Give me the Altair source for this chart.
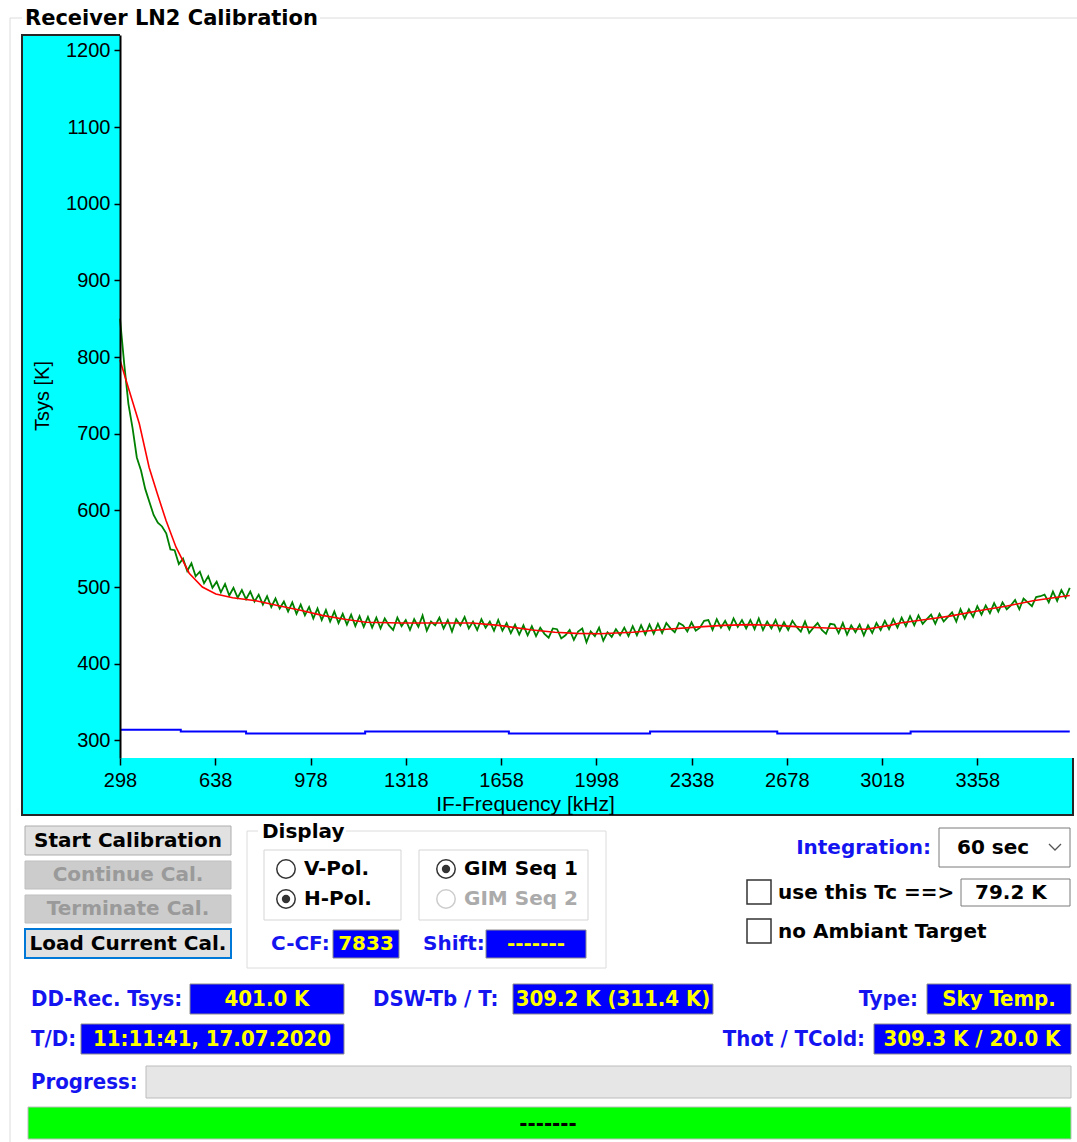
import altair as alt
import pandas as pd

# ---------------- data ----------------
FREQ_START = 298      # first IF bin [kHz]
FREQ_STEP = 15        # bin spacing used for the measured trace [kHz]
green_tsys = [
    850, 791, 739, 707, 669, 652, 628, 611, 594, 584,
    579, 570, 549, 548, 530, 537, 521, 531, 514, 520,
    505, 514, 499, 507, 493, 504, 489, 499, 486, 496,
    484, 494, 481, 490, 477, 488, 474, 485, 472, 481,
    468, 480, 465, 477, 463, 474, 459, 472, 457, 470,
    455, 468, 453, 465, 451, 464, 449, 462, 448, 461,
    447, 460, 446, 459, 450, 444, 460, 449, 457, 444,
    458, 448, 463, 443, 455, 450, 460, 446, 457, 442,
    458, 450, 461, 446, 455, 444, 458, 447, 455, 443,
    457, 443, 453, 440, 451, 438, 450, 437, 449, 436,
    447, 439, 434, 446, 445, 433, 437, 444, 431, 442,
    446, 428, 442, 436, 447, 430, 441, 435, 445, 437,
    447, 436, 449, 437, 450, 438, 451, 439, 452, 440,
    453, 446, 441, 453, 450, 442, 454, 443, 447, 456,
    457, 444, 458, 447, 456, 445, 459, 448, 457, 446,
    457, 445, 459, 444, 455, 446, 457, 443, 454, 444,
    456, 448, 442, 455, 440, 447, 453, 444, 439, 452,
    451, 440, 453, 438, 450, 441, 451, 437, 450, 440,
    453, 444, 456, 445, 458, 447, 460, 449, 462, 450,
    463, 452, 458, 464, 452, 465, 455, 461, 467, 455,
    471, 459, 471, 461, 475, 464, 476, 466, 479, 468,
    480, 471, 476, 483, 471, 485, 480, 475, 487, 488,
    490, 480, 494, 482, 496, 486, 499,
]
green_freq = [FREQ_START + FREQ_STEP * i for i in range(len(green_tsys))]

fit_freq = [298, 331, 367, 402, 431, 462, 498, 545, 592, 640, 700, 783, 860, 938,
            1020, 1100, 1176, 1300, 1450, 1555, 1650, 1770, 1850, 1926, 2010, 2128,
            2250, 2367, 2450, 2546, 2640, 2724, 2820, 2903, 2960, 3046, 3082, 3200,
            3260, 3378, 3460, 3557, 3630, 3688]
fit_tsys = [796, 756, 713, 656, 622, 587, 552, 518, 500, 491, 486, 482, 476, 470,
            463, 458, 454, 453, 453, 453, 450, 444, 441, 439.5, 439, 441,
            445, 448, 450, 451, 450, 448, 446.5, 445.5, 445, 450, 453, 459,
            462, 470, 475, 482, 486, 489]

ref_freq = [298, 515, 748, 1173, 1686, 2190, 2644, 3120, 3688]
ref_tsys = [314, 311.5, 309, 311.5, 309, 311.5, 309, 311.5, 311.5]

x_ticks = [298, 638, 978, 1318, 1658, 1998, 2338, 2678, 3018, 3358]
y_ticks = [300, 400, 500, 600, 700, 800, 900, 1000, 1100, 1200]
x_domain = [298, 3696]
y_domain = [277, 1220]

# ---------------- layout ----------------
OX, OY = 120, 35          # plot origin on the page
W, H = 952, 723           # plot area
UI = "DejaVu Sans"
COND = "DejaVu Sans Condensed, DejaVu Sans"
LBL = "#1414F0"
BOXB = "#0000FF"
YEL = "#FFFF00"
FS = 20     # ui font size
FC = 22     # condensed font size


def rect_layer(items):
    df = pd.DataFrame(items, columns=["x1", "y1", "x2", "y2", "fill", "stroke", "sw"])
    df["x1"] -= OX
    df["x2"] -= OX
    df["y1"] -= OY
    df["y2"] -= OY
    return alt.Chart(df).mark_rect().encode(
        x=alt.X("x1:Q", scale=None, axis=None), x2="x2:Q",
        y=alt.Y("y1:Q", scale=None, axis=None), y2="y2:Q",
        fill=alt.Fill("fill:N", scale=None, legend=None),
        stroke=alt.Stroke("stroke:N", scale=None, legend=None),
        strokeWidth=alt.StrokeWidth("sw:Q", scale=None, legend=None),
    )


def rule_layer(items):
    df = pd.DataFrame(items, columns=["x1", "y1", "x2", "y2", "c", "w"])
    df["x1"] -= OX
    df["x2"] -= OX
    df["y1"] -= OY
    df["y2"] -= OY
    return alt.Chart(df).mark_rule().encode(
        x=alt.X("x1:Q", scale=None, axis=None), x2="x2:Q",
        y=alt.Y("y1:Q", scale=None, axis=None), y2="y2:Q",
        color=alt.Color("c:N", scale=None, legend=None),
        strokeWidth=alt.StrokeWidth("w:Q", scale=None, legend=None),
    )


def text_layer(items, font, weight, align):
    df = pd.DataFrame(items, columns=["x", "y", "t", "c", "s"])
    df["x"] -= OX
    df["y"] -= OY
    return alt.Chart(df).mark_text(font=font, fontWeight=weight, align=align,
                                   baseline="middle").encode(
        x=alt.X("x:Q", scale=None, axis=None),
        y=alt.Y("y:Q", scale=None, axis=None),
        text="t:N",
        color=alt.Color("c:N", scale=None, legend=None),
        size=alt.Size("s:Q", scale=None, legend=None),
    )


def circle_layer(items, size, sw):
    df = pd.DataFrame(items, columns=["x", "y", "f", "c"])
    df["x"] -= OX
    df["y"] -= OY
    return alt.Chart(df).mark_point(shape="circle", filled=True, strokeWidth=sw, opacity=1).encode(
        x=alt.X("x:Q", scale=None, axis=None),
        y=alt.Y("y:Q", scale=None, axis=None),
        fill=alt.Fill("f:N", scale=None, legend=None),
        stroke=alt.Stroke("c:N", scale=None, legend=None),
        size=alt.value(size),
    )


rects_back = rect_layer([
    (22, 35, 1073, 815, "#00FFFF", "#262626", 2),
    (120, 33, 1076, 758, "#FFFFFF", "#FFFFFF", 0),
    # buttons
    (25, 826, 231, 855, "#E1E1E1", "#ADADAD", 1),
    (25, 861, 231, 889, "#CCCCCC", "#BFBFBF", 1),
    (25, 895, 231, 923, "#CCCCCC", "#BFBFBF", 1),
    (25, 929, 231, 958, "#E1E1E1", "#0078D7", 2),
    # display group inner boxes
    (264, 850, 401, 920, "#FFFFFF", "#D5D5D5", 1),
    (419, 850, 588, 920, "#FFFFFF", "#D5D5D5", 1),
    (333, 930, 399, 958, BOXB, "#8C8C8C", 1),
    (486, 930, 586, 958, BOXB, "#8C8C8C", 1),
    # right controls
    (939, 828, 1070, 867, "#FFFFFF", "#7A7A7A", 1),
    (747, 880, 771, 904, "#FFFFFF", "#333333", 1.5),
    (961, 879, 1070, 906, "#FFFFFF", "#7A7A7A", 1),
    (747, 919, 771, 943, "#FFFFFF", "#333333", 1.5),
    # value boxes
    (190, 984, 344, 1014, BOXB, "#8C8C8C", 1),
    (513, 984, 713, 1014, BOXB, "#8C8C8C", 1),
    (927, 984, 1071, 1014, BOXB, "#8C8C8C", 1),
    (81, 1024, 344, 1054, BOXB, "#8C8C8C", 1),
    (874, 1024, 1071, 1054, BOXB, "#8C8C8C", 1),
    (146, 1066, 1071, 1098, "#E6E6E6", "#BCBCBC", 1),
    (28, 1107, 1071, 1139, "#00FF00", "#BCBCBC", 1),
])

rules = rule_layer([
    (10, 18, 22, 18, "#DCDCDC", 1),
    (320, 18, 1077, 18, "#DCDCDC", 1),
    (10, 18, 10, 1142, "#DCDCDC", 1),
    (247, 831, 258, 831, "#DCDCDC", 1),
    (346, 831, 606, 831, "#DCDCDC", 1),
    (247, 831, 247, 968, "#DCDCDC", 1),
    (606, 831, 606, 968, "#DCDCDC", 1),
    (247, 968, 606, 968, "#DCDCDC", 1),
])

chev_df = pd.DataFrame({"x": [1049 - OX, 1055 - OX, 1061 - OX],
                        "y": [844 - OY, 850 - OY, 844 - OY], "o": [0, 1, 2]})
chevron = alt.Chart(chev_df).mark_line(color="#555555", strokeWidth=1.3).encode(
    x=alt.X("x:Q", scale=None, axis=None), y=alt.Y("y:Q", scale=None, axis=None),
    order="o:Q")

# ---------------- plot ----------------
x_axis = alt.Axis(values=x_ticks, format="d", domain=False, grid=False, ticks=True,
                  tickColor="#000", tickSize=7, tickWidth=1.5, labelFont="Liberation Sans",
                  labelFontSize=20, labelColor="#000", labelPadding=5, labelFlush=False,
                  labelOverlap=False,
                  title="IF-Frequency [kHz]", titleFont="Liberation Sans", titleFontSize=21,
                  titleFontWeight="normal", titleColor="#000", titleX=405, titleY=46,
                  titleAlign="center", titleBaseline="middle", zindex=1)
y_axis = alt.Axis(values=y_ticks, format="d", domain=True, domainColor="#000", domainWidth=2,
                  grid=False, tickColor="#000", tickSize=6, tickWidth=1.5,
                  labelFont="Liberation Sans", labelFontSize=20, labelColor="#000",
                  labelPadding=4, labelOverlap=False,
                  title="Tsys [K]", titleFont="Liberation Sans", titleFontSize=20,
                  titleFontWeight="normal", titleColor="#000", titleX=-78, titleY=H / 2 - 1,
                  titleAngle=270, titleAlign="center", titleBaseline="middle", zindex=1)

x_enc = alt.X("freq:Q", scale=alt.Scale(domain=x_domain, nice=False, zero=False), axis=x_axis)
y_enc = alt.Y("tsys:Q", scale=alt.Scale(domain=y_domain, nice=False, zero=False), axis=y_axis)

green = alt.Chart(pd.DataFrame({"freq": green_freq, "tsys": green_tsys})).mark_line(
    color="#008000", strokeWidth=1.8).encode(x=x_enc, y=y_enc)
red = alt.Chart(pd.DataFrame({"freq": fit_freq, "tsys": fit_tsys})).mark_line(
    color="#FF0000", strokeWidth=1.6).encode(x=x_enc, y=y_enc)
blue = alt.Chart(pd.DataFrame({"freq": ref_freq, "tsys": ref_tsys})).mark_line(
    color="#0000FF", strokeWidth=2, interpolate="step-after").encode(x=x_enc, y=y_enc)

# ---------------- texts ----------------
title_t = text_layer([(25, 19, "Receiver LN2 Calibration", "#000", 21)], UI, "bold", "left")
btn_t = text_layer([
    (128, 841, "Start Calibration", "#000", FS),
    (128, 875, "Continue Cal.", "#9A9A9A", FS),
    (128, 909, "Terminate Cal.", "#9A9A9A", FS),
    (128, 944, "Load Current Cal.", "#000", FS),
    (366, 944, "7833", YEL, FS),
    (536, 944, "-------", YEL, FS),
], UI, "bold", "center")
left_t = text_layer([
    (262, 832, "Display", "#000", FS),
    (304, 869, "V-Pol.", "#000", FS),
    (304, 899, "H-Pol.", "#000", FS),
    (464, 869, "GIM Seq 1", "#000", FS),
    (464, 899, "GIM Seq 2", "#ABABAB", FS),
    (271, 944, "C-CF:", LBL, FS),
    (423, 944, "Shift:", LBL, FS),
    (957, 848, "60 sec", "#000", FS),
    (778, 893, "use this Tc ==>", "#000", FS),
    (975, 893, "79.2 K", "#000", FS),
    (778, 932, "no Ambiant Target", "#000", FS),
], UI, "bold", "left")
right_t = text_layer([(931, 848, "Integration:", LBL, FS)], UI, "bold", "right")
cond_left = text_layer([
    (31, 999, "DD-Rec. Tsys:", LBL, FC),
    (373, 999, "DSW-Tb / T:", LBL, FC),
    (31, 1039, "T/D:", LBL, FC),
    (31, 1082, "Progress:", LBL, FC),
], COND, "bold", "left")
cond_right = text_layer([
    (918, 999, "Type:", LBL, FC),
    (865, 1039, "Thot / TCold:", LBL, FC),
], COND, "bold", "right")
cond_center = text_layer([
    (267, 999, "401.0 K", YEL, FC),
    (613, 999, "309.2 K (311.4 K)", YEL, FC),
    (999, 999, "Sky Temp.", YEL, FC),
    (212, 1039, "11:11:41, 17.07.2020", YEL, FC),
    (972, 1039, "309.3 K / 20.0 K", YEL, FC),
    (548, 1124, "-------", "#000", FC),
], COND, "bold", "center")

radio_outer = circle_layer([
    (286, 869, "#FFFFFF", "#333333"),
    (286, 899, "#FFFFFF", "#333333"),
    (446, 869, "#FFFFFF", "#333333"),
    (446, 899, "#FFFFFF", "#CCCCCC"),
], 340, 1.5)
radio_dot = circle_layer([
    (286, 899, "#333333", "#333333"),
    (446, 869, "#333333", "#333333"),
], 70, 0)

chart = alt.layer(
    rects_back, rules, chevron, blue, green, red,
    radio_outer, radio_dot,
    title_t, btn_t, left_t, right_t, cond_left, cond_right, cond_center,
).properties(
    width=W, height=H,
    autosize=alt.AutoSizeParams(type="none"),
    padding={"left": OX, "top": OY, "right": 1077 - OX - W, "bottom": 1142 - OY - H},
    background="white",
).configure_view(stroke=None)

chart.save("out.html", embed_options={"renderer": "svg", "actions": False})
